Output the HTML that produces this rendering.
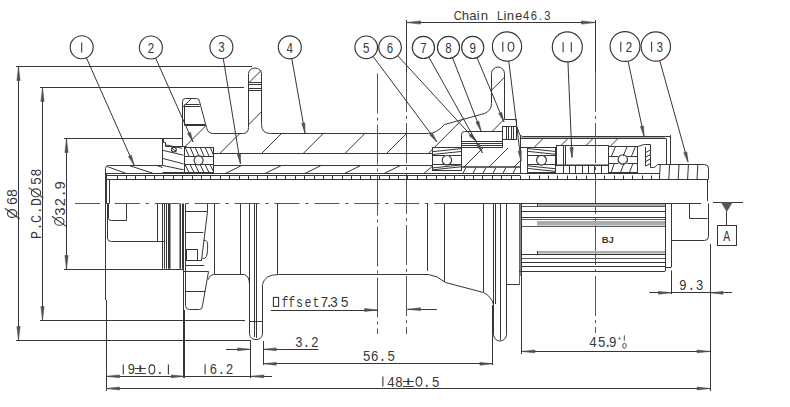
<!DOCTYPE html>
<html><head><meta charset="utf-8"><style>
html,body{margin:0;padding:0;background:#fff;}
svg{display:block;}

</style></head><body>
<svg width="790" height="407" viewBox="0 0 790 407" font-family="Liberation Sans, sans-serif">
<rect width="790" height="407" fill="#fff"/>
<line x1="16" y1="66.5" x2="252" y2="66.5" stroke="#363636" stroke-width="1" />
<line x1="40" y1="87.5" x2="244" y2="87.5" stroke="#363636" stroke-width="1" />
<line x1="64" y1="138.5" x2="182.5" y2="138.5" stroke="#363636" stroke-width="1" />
<line x1="64" y1="269.5" x2="183.5" y2="269.5" stroke="#363636" stroke-width="1" />
<line x1="40" y1="320.5" x2="245" y2="320.5" stroke="#363636" stroke-width="1" />
<line x1="16" y1="340.5" x2="251" y2="340.5" stroke="#363636" stroke-width="1" />
<line x1="18.5" y1="67" x2="18.5" y2="340" stroke="#363636" stroke-width="1" />
<polygon points="18.50,67.00 20.10,80.50 16.90,80.50" fill="#505050" stroke="#505050" stroke-width="0.6"/>
<polygon points="18.50,340.00 16.90,326.50 20.10,326.50" fill="#505050" stroke="#505050" stroke-width="0.6"/>
<line x1="42.5" y1="88" x2="42.5" y2="320" stroke="#363636" stroke-width="1" />
<polygon points="42.50,88.00 44.10,101.50 40.90,101.50" fill="#505050" stroke="#505050" stroke-width="0.6"/>
<polygon points="42.50,320.00 40.90,306.50 44.10,306.50" fill="#505050" stroke="#505050" stroke-width="0.6"/>
<line x1="66.5" y1="139" x2="66.5" y2="269" stroke="#363636" stroke-width="1" />
<polygon points="66.50,139.00 68.10,152.50 64.90,152.50" fill="#505050" stroke="#505050" stroke-width="0.6"/>
<polygon points="66.50,269.00 64.90,255.50 68.10,255.50" fill="#505050" stroke="#505050" stroke-width="0.6"/>
<g transform="translate(17.4 213.5) rotate(-90)" fill="none" stroke="#383838" stroke-width="1.1"><ellipse cx="0" cy="-5.2" rx="3.9" ry="4.7"/><line x1="-5.2" y1="2.2" x2="5.2" y2="-12.6"/></g>
<text transform="translate(17.4 201) rotate(-90) scale(1.0 1)" x="0" y="0" font-family="Liberation Mono" font-size="14" fill="#383838" text-anchor="middle">6</text>
<text transform="translate(17.4 193.1) rotate(-90) scale(1.0 1)" x="0" y="0" font-family="Liberation Mono" font-size="14" fill="#383838" text-anchor="middle">8</text>
<text transform="translate(41.2 235) rotate(-90) scale(0.95 1)" x="0" y="0" font-family="Liberation Mono" font-size="14" fill="#383838" text-anchor="middle">P</text>
<text transform="translate(41.2 226.5) rotate(-90) scale(0.95 1)" x="0" y="0" font-family="Liberation Mono" font-size="14" fill="#383838" text-anchor="middle">.</text>
<text transform="translate(41.2 219) rotate(-90) scale(0.95 1)" x="0" y="0" font-family="Liberation Mono" font-size="14" fill="#383838" text-anchor="middle">C</text>
<text transform="translate(41.2 210.3) rotate(-90) scale(0.95 1)" x="0" y="0" font-family="Liberation Mono" font-size="14" fill="#383838" text-anchor="middle">.</text>
<text transform="translate(41.2 202) rotate(-90) scale(0.95 1)" x="0" y="0" font-family="Liberation Mono" font-size="14" fill="#383838" text-anchor="middle">D</text>
<g transform="translate(41.2 192.8) rotate(-90)" fill="none" stroke="#383838" stroke-width="1.1"><ellipse cx="0" cy="-5.2" rx="3.9" ry="4.7"/><line x1="-5.2" y1="2.2" x2="5.2" y2="-12.6"/></g>
<text transform="translate(41.2 181) rotate(-90) scale(0.95 1)" x="0" y="0" font-family="Liberation Mono" font-size="14" fill="#383838" text-anchor="middle">5</text>
<text transform="translate(41.2 172.6) rotate(-90) scale(0.95 1)" x="0" y="0" font-family="Liberation Mono" font-size="14" fill="#383838" text-anchor="middle">8</text>
<g transform="translate(64.5 221.4) rotate(-90)" fill="none" stroke="#383838" stroke-width="1.1"><ellipse cx="0" cy="-5.2" rx="3.9" ry="4.7"/><line x1="-5.2" y1="2.2" x2="5.2" y2="-12.6"/></g>
<text transform="translate(64.5 211.5) rotate(-90) scale(1.05 1)" x="0" y="0" font-family="Liberation Mono" font-size="14" fill="#383838" text-anchor="middle">3</text>
<text transform="translate(64.5 202) rotate(-90) scale(1.05 1)" x="0" y="0" font-family="Liberation Mono" font-size="14" fill="#383838" text-anchor="middle">2</text>
<text transform="translate(64.5 193.3) rotate(-90) scale(1.05 1)" x="0" y="0" font-family="Liberation Mono" font-size="14" fill="#383838" text-anchor="middle">.</text>
<text transform="translate(64.5 185.3) rotate(-90) scale(1.05 1)" x="0" y="0" font-family="Liberation Mono" font-size="14" fill="#383838" text-anchor="middle">9</text>
<line x1="406.5" y1="20" x2="406.5" y2="72" stroke="#363636" stroke-width="1" />
<line x1="595.5" y1="20" x2="595.5" y2="72" stroke="#363636" stroke-width="1" />
<line x1="406.5" y1="22.5" x2="595.5" y2="22.5" stroke="#363636" stroke-width="1" />
<polygon points="406.50,22.50 420.50,20.90 420.50,24.10" fill="#505050" stroke="#505050" stroke-width="0.6"/>
<polygon points="595.50,22.50 581.50,24.10 581.50,20.90" fill="#505050" stroke="#505050" stroke-width="0.6"/>
<text transform="translate(457.7 20.1) scale(0.85 1)" x="0" y="0" font-family="Liberation Sans" font-size="13.2" fill="#383838" text-anchor="middle">C</text>
<text transform="translate(465.4 20.1) scale(1.0 1)" x="0" y="0" font-family="Liberation Sans" font-size="13.2" fill="#383838" text-anchor="middle">h</text>
<text transform="translate(472.8 20.1) scale(1.0 1)" x="0" y="0" font-family="Liberation Sans" font-size="13.2" fill="#383838" text-anchor="middle">a</text>
<text transform="translate(478.2 20.1) scale(1.0 1)" x="0" y="0" font-family="Liberation Sans" font-size="13.2" fill="#383838" text-anchor="middle">i</text>
<text transform="translate(484.5 20.1) scale(1.0 1)" x="0" y="0" font-family="Liberation Sans" font-size="13.2" fill="#383838" text-anchor="middle">n</text>
<text transform="translate(500 20.1) scale(0.85 1)" x="0" y="0" font-family="Liberation Sans" font-size="13.2" fill="#383838" text-anchor="middle">L</text>
<text transform="translate(505 20.1) scale(1.0 1)" x="0" y="0" font-family="Liberation Sans" font-size="13.2" fill="#383838" text-anchor="middle">i</text>
<text transform="translate(510.4 20.1) scale(1.0 1)" x="0" y="0" font-family="Liberation Sans" font-size="13.2" fill="#383838" text-anchor="middle">n</text>
<text transform="translate(518.7 20.1) scale(1.0 1)" x="0" y="0" font-family="Liberation Sans" font-size="13.2" fill="#383838" text-anchor="middle">e</text>
<text transform="translate(526.1 20.1) scale(0.85 1)" x="0" y="0" font-family="Liberation Sans" font-size="13.2" fill="#383838" text-anchor="middle">4</text>
<text transform="translate(533.9 20.1) scale(0.85 1)" x="0" y="0" font-family="Liberation Sans" font-size="13.2" fill="#383838" text-anchor="middle">6</text>
<text transform="translate(540.3 20.1) scale(0.85 1)" x="0" y="0" font-family="Liberation Sans" font-size="13.2" fill="#383838" text-anchor="middle">.</text>
<text transform="translate(547.3 20.1) scale(0.85 1)" x="0" y="0" font-family="Liberation Sans" font-size="13.2" fill="#383838" text-anchor="middle">3</text>
<line x1="71" y1="203.5" x2="445" y2="203.5" stroke="#555555" stroke-width="1" stroke-dasharray="25 5.7 3.5 5.7" stroke-dashoffset="35.9"/>
<line x1="406.5" y1="72" x2="406.5" y2="334" stroke="#555555" stroke-width="1" stroke-dasharray="40 4 3 4"/>
<line x1="377.5" y1="73.5" x2="377.5" y2="334" stroke="#555555" stroke-width="1" stroke-dasharray="40 4 3 4"/>
<line x1="595.5" y1="72" x2="595.5" y2="333" stroke="#555555" stroke-width="1" stroke-dasharray="40 4 3 4"/>
<path d="M 182.5 138.5L 182.5 101.5Q 182.5 98.5 185.5 98.5L 196.5 98.5Q 199.5 98.5 199.5 101.5L 206.5 127.5Q 207.5 133.5 213.5 133.5L 242.5 133.5Q 248.5 133.5 248.5 127.5L 248.5 73.5A 6.6 6.6 0 0 1 261.5 73.5L 261.5 124.5Q 261.5 133.5 270.5 133.5L 428.5 133.5Q 436.5 133.5 444.5 124.5L 484.5 113.5Q 491.5 110.5 491.5 103.5L 491.5 73.5A 6.3 6.3 0 0 1 504.5 73.5L 504.5 119.5L 516.5 119.5L 516.5 126.5" fill="none" stroke="#363636" stroke-width="1" />
<clipPath id="hs"><polygon points="182.5,138.5 182.5,101 185.5,98 196.5,98 199.6,101 206,127 213,133.5 242,133.5 248,127.5 248,70 254.6,66.4 261.2,70 261.2,124.5 270,133.5 428.7,133.5 444,124 486,111.6 491.8,101.4 491.8,70 498,66.6 504.4,70 504.4,119.9 516,119.9 516,126.5 502.7,126.5 502.7,131.5 461.6,131.5 461.6,147.3 432.9,147.3 432.9,153 213.6,153 213.6,147 184,147 184,138.5"/></clipPath>
<g clip-path="url(#hs)">
<line x1="206.50" y1="0" x2="-200.50" y2="407" stroke="#363636" stroke-width="1" />
<line x1="248.20" y1="0" x2="-158.80" y2="407" stroke="#363636" stroke-width="1" />
<line x1="289.90" y1="0" x2="-117.10" y2="407" stroke="#363636" stroke-width="1" />
<line x1="331.60" y1="0" x2="-75.40" y2="407" stroke="#363636" stroke-width="1" />
<line x1="373.30" y1="0" x2="-33.70" y2="407" stroke="#363636" stroke-width="1" />
<line x1="415.00" y1="0" x2="8.00" y2="407" stroke="#363636" stroke-width="1" />
<line x1="456.70" y1="0" x2="49.70" y2="407" stroke="#363636" stroke-width="1" />
<line x1="498.40" y1="0" x2="91.40" y2="407" stroke="#363636" stroke-width="1" />
<line x1="540.10" y1="0" x2="133.10" y2="407" stroke="#363636" stroke-width="1" />
<line x1="581.80" y1="0" x2="174.80" y2="407" stroke="#363636" stroke-width="1" />
<line x1="623.50" y1="0" x2="216.50" y2="407" stroke="#363636" stroke-width="1" />
<line x1="665.20" y1="0" x2="258.20" y2="407" stroke="#363636" stroke-width="1" />
<line x1="706.90" y1="0" x2="299.90" y2="407" stroke="#363636" stroke-width="1" />
<line x1="748.60" y1="0" x2="341.60" y2="407" stroke="#363636" stroke-width="1" />
<line x1="790.30" y1="0" x2="383.30" y2="407" stroke="#363636" stroke-width="1" />
</g>
<line x1="248" y1="82.5" x2="261.2" y2="82.5" stroke="#363636" stroke-width="1" />
<line x1="248" y1="84.5" x2="261.2" y2="84.5" stroke="#363636" stroke-width="1" />
<line x1="248" y1="88.5" x2="261.2" y2="88.5" stroke="#363636" stroke-width="1" />
<line x1="248" y1="90.5" x2="261.2" y2="90.5" stroke="#363636" stroke-width="1" />
<line x1="184.6" y1="104.5" x2="199.5" y2="104.5" stroke="#363636" stroke-width="1" />
<line x1="184.6" y1="106.5" x2="199.9" y2="106.5" stroke="#363636" stroke-width="1" />
<line x1="184.6" y1="124.5" x2="205.3" y2="124.5" stroke="#363636" stroke-width="1" />
<line x1="184.6" y1="125.5" x2="205.6" y2="125.5" stroke="#363636" stroke-width="1" />
<line x1="184.5" y1="104.7" x2="184.5" y2="125.4" stroke="#363636" stroke-width="1" />
<line x1="213.6" y1="153.5" x2="432.9" y2="153.5" stroke="#363636" stroke-width="1" />
<line x1="182.5" y1="138.5" x2="182.5" y2="147" stroke="#363636" stroke-width="1" />
<rect x="184.5" y="147.5" width="29.0" height="25.0" rx="0" fill="none" stroke="#363636" stroke-width="1"/>
<circle cx="198.6" cy="160.3" r="4.5" fill="none" stroke="#363636" stroke-width="1.15"/>
<line x1="184" y1="156.5" x2="196.79999999999998" y2="156.5" stroke="#363636" stroke-width="1" />
<line x1="200.4" y1="156.5" x2="213.6" y2="156.5" stroke="#363636" stroke-width="1" />
<line x1="184" y1="164.5" x2="196.79999999999998" y2="164.5" stroke="#363636" stroke-width="1" />
<line x1="200.4" y1="164.5" x2="213.6" y2="164.5" stroke="#363636" stroke-width="1" />
<clipPath id="b184a"><rect x="184" y="147" width="29.599999999999994" height="9.160000000000025"/></clipPath>
<clipPath id="b184b"><rect x="184" y="164.44" width="29.599999999999994" height="8.060000000000002"/></clipPath>
<g clip-path="url(#b184a)">
<line x1="180" y1="147" x2="184" y2="156.16000000000003" stroke="#363636" stroke-width="1" />
<line x1="185" y1="147" x2="189" y2="156.16000000000003" stroke="#363636" stroke-width="1" />
<line x1="190" y1="147" x2="194" y2="156.16000000000003" stroke="#363636" stroke-width="1" />
<line x1="195" y1="147" x2="199" y2="156.16000000000003" stroke="#363636" stroke-width="1" />
<line x1="200" y1="147" x2="204" y2="156.16000000000003" stroke="#363636" stroke-width="1" />
<line x1="205" y1="147" x2="209" y2="156.16000000000003" stroke="#363636" stroke-width="1" />
<line x1="210" y1="147" x2="214" y2="156.16000000000003" stroke="#363636" stroke-width="1" />
<line x1="215" y1="147" x2="219" y2="156.16000000000003" stroke="#363636" stroke-width="1" />
</g>
<g clip-path="url(#b184b)">
<line x1="180" y1="164.44" x2="184" y2="172.5" stroke="#363636" stroke-width="1" />
<line x1="185" y1="164.44" x2="189" y2="172.5" stroke="#363636" stroke-width="1" />
<line x1="190" y1="164.44" x2="194" y2="172.5" stroke="#363636" stroke-width="1" />
<line x1="195" y1="164.44" x2="199" y2="172.5" stroke="#363636" stroke-width="1" />
<line x1="200" y1="164.44" x2="204" y2="172.5" stroke="#363636" stroke-width="1" />
<line x1="205" y1="164.44" x2="209" y2="172.5" stroke="#363636" stroke-width="1" />
<line x1="210" y1="164.44" x2="214" y2="172.5" stroke="#363636" stroke-width="1" />
<line x1="215" y1="164.44" x2="219" y2="172.5" stroke="#363636" stroke-width="1" />
</g>
<path d="M 461.5 147.5L 461.5 134.5Q 461.5 131.5 464.5 131.5L 502.5 131.5L 502.5 147.5Z" fill="none" stroke="#363636" stroke-width="1" />
<line x1="461.6" y1="141.5" x2="502.7" y2="141.5" stroke="#363636" stroke-width="1" />
<line x1="461.6" y1="143.5" x2="502.7" y2="143.5" stroke="#363636" stroke-width="1" />
<line x1="461.6" y1="145.5" x2="502.7" y2="145.5" stroke="#363636" stroke-width="1" />
<clipPath id="e7"><polygon points="461.6,131.5 502.7,131.5 502.7,141.9 461.6,141.9"/></clipPath>
<g clip-path="url(#e7)">
<line x1="451.00" y1="0" x2="44.00" y2="407" stroke="#363636" stroke-width="1" />
<line x1="473.00" y1="0" x2="66.00" y2="407" stroke="#363636" stroke-width="1" />
<line x1="495.00" y1="0" x2="88.00" y2="407" stroke="#363636" stroke-width="1" />
<line x1="517.00" y1="0" x2="110.00" y2="407" stroke="#363636" stroke-width="1" />
<line x1="539.00" y1="0" x2="132.00" y2="407" stroke="#363636" stroke-width="1" />
</g>
<clipPath id="r7"><polygon points="461.6,147.9 520,147.9 520,167 461.6,167"/></clipPath>
<g clip-path="url(#r7)">
<line x1="581.00" y1="0" x2="174.00" y2="407" stroke="#363636" stroke-width="1" />
<line x1="606.00" y1="0" x2="199.00" y2="407" stroke="#363636" stroke-width="1" />
<line x1="631.00" y1="0" x2="224.00" y2="407" stroke="#363636" stroke-width="1" />
<line x1="656.00" y1="0" x2="249.00" y2="407" stroke="#363636" stroke-width="1" />
<line x1="681.00" y1="0" x2="274.00" y2="407" stroke="#363636" stroke-width="1" />
<line x1="706.00" y1="0" x2="299.00" y2="407" stroke="#363636" stroke-width="1" />
</g>
<line x1="461.6" y1="167" x2="520" y2="167" stroke="#363636" stroke-width="1.3" />
<line x1="463" y1="173.2" x2="466" y2="167.4" stroke="#363636" stroke-width="1" />
<line x1="473" y1="173.2" x2="476" y2="167.4" stroke="#363636" stroke-width="1" />
<line x1="483" y1="173.2" x2="486" y2="167.4" stroke="#363636" stroke-width="1" />
<line x1="493" y1="173.2" x2="496" y2="167.4" stroke="#363636" stroke-width="1" />
<line x1="503" y1="173.2" x2="506" y2="167.4" stroke="#363636" stroke-width="1" />
<line x1="513" y1="173.2" x2="516" y2="167.4" stroke="#363636" stroke-width="1" />
<rect x="502.5" y="126.5" width="14.0" height="13.0" rx="0" fill="none" stroke="#363636" stroke-width="1"/>
<line x1="506.5" y1="127" x2="506.5" y2="139.5" stroke="#363636" stroke-width="1" />
<line x1="508.5" y1="127" x2="508.5" y2="139.5" stroke="#363636" stroke-width="1" />
<line x1="511.5" y1="127" x2="511.5" y2="139.5" stroke="#363636" stroke-width="1" />
<line x1="513.5" y1="127" x2="513.5" y2="139.5" stroke="#363636" stroke-width="1" />
<line x1="516.2" y1="126.6" x2="518.7" y2="131.8" stroke="#363636" stroke-width="1" />
<rect x="432.5" y="147.5" width="29.0" height="23.0" rx="0" fill="none" stroke="#363636" stroke-width="1"/>
<circle cx="446.9" cy="160.2" r="4.7" fill="none" stroke="#363636" stroke-width="1.15"/>
<line x1="432.9" y1="155.5" x2="445.02" y2="155.5" stroke="#363636" stroke-width="1" />
<line x1="448.78" y1="155.5" x2="461.4" y2="155.5" stroke="#363636" stroke-width="1" />
<line x1="432.9" y1="164.5" x2="445.02" y2="164.5" stroke="#363636" stroke-width="1" />
<line x1="448.78" y1="164.5" x2="461.4" y2="164.5" stroke="#363636" stroke-width="1" />
<line x1="432.9" y1="151.63008" x2="461.4" y2="148.63008" stroke="#363636" stroke-width="1" />
<line x1="432.9" y1="167.89708" x2="461.4" y2="164.89708" stroke="#363636" stroke-width="1" />
<line x1="432.9" y1="154.46016" x2="461.4" y2="151.46016" stroke="#363636" stroke-width="1" />
<line x1="432.9" y1="169.77016" x2="461.4" y2="166.77016" stroke="#363636" stroke-width="1" />
<path d="M 105.5 203.5L 105.5 168.5Q 105.5 165.5 108.5 165.5L 162.5 165.5L 162.5 138.5" fill="none" stroke="#363636" stroke-width="1" />
<line x1="105.5" y1="173.5" x2="658.6" y2="173.5" stroke="#363636" stroke-width="1" />
<line x1="107" y1="175.5" x2="520" y2="175.5" stroke="#363636" stroke-width="1" />
<line x1="107" y1="179.5" x2="708" y2="179.5" stroke="#363636" stroke-width="1" />
<line x1="117.5" y1="175.5" x2="117.5" y2="179.5" stroke="#363636" stroke-width="1" />
<line x1="126.5" y1="175.5" x2="126.5" y2="179.5" stroke="#363636" stroke-width="1" />
<line x1="135.5" y1="175.5" x2="135.5" y2="179.5" stroke="#363636" stroke-width="1" />
<line x1="145.5" y1="175.5" x2="145.5" y2="179.5" stroke="#363636" stroke-width="1" />
<line x1="154.5" y1="175.5" x2="154.5" y2="179.5" stroke="#363636" stroke-width="1" />
<line x1="163.5" y1="175.5" x2="163.5" y2="179.5" stroke="#363636" stroke-width="1" />
<line x1="173.5" y1="175.5" x2="173.5" y2="179.5" stroke="#363636" stroke-width="1" />
<line x1="182.5" y1="175.5" x2="182.5" y2="179.5" stroke="#363636" stroke-width="1" />
<line x1="192.5" y1="175.5" x2="192.5" y2="179.5" stroke="#363636" stroke-width="1" />
<line x1="201.5" y1="175.5" x2="201.5" y2="179.5" stroke="#363636" stroke-width="1" />
<line x1="210.5" y1="175.5" x2="210.5" y2="179.5" stroke="#363636" stroke-width="1" />
<line x1="220.5" y1="175.5" x2="220.5" y2="179.5" stroke="#363636" stroke-width="1" />
<line x1="229.5" y1="175.5" x2="229.5" y2="179.5" stroke="#363636" stroke-width="1" />
<line x1="239.5" y1="175.5" x2="239.5" y2="179.5" stroke="#363636" stroke-width="1" />
<line x1="248.5" y1="175.5" x2="248.5" y2="179.5" stroke="#363636" stroke-width="1" />
<line x1="257.5" y1="175.5" x2="257.5" y2="179.5" stroke="#363636" stroke-width="1" />
<line x1="267.5" y1="175.5" x2="267.5" y2="179.5" stroke="#363636" stroke-width="1" />
<line x1="276.5" y1="175.5" x2="276.5" y2="179.5" stroke="#363636" stroke-width="1" />
<line x1="285.5" y1="175.5" x2="285.5" y2="179.5" stroke="#363636" stroke-width="1" />
<line x1="295.5" y1="175.5" x2="295.5" y2="179.5" stroke="#363636" stroke-width="1" />
<line x1="304.5" y1="175.5" x2="304.5" y2="179.5" stroke="#363636" stroke-width="1" />
<line x1="314.5" y1="175.5" x2="314.5" y2="179.5" stroke="#363636" stroke-width="1" />
<line x1="323.5" y1="175.5" x2="323.5" y2="179.5" stroke="#363636" stroke-width="1" />
<line x1="332.5" y1="175.5" x2="332.5" y2="179.5" stroke="#363636" stroke-width="1" />
<line x1="342.5" y1="175.5" x2="342.5" y2="179.5" stroke="#363636" stroke-width="1" />
<line x1="351.5" y1="175.5" x2="351.5" y2="179.5" stroke="#363636" stroke-width="1" />
<line x1="360.5" y1="175.5" x2="360.5" y2="179.5" stroke="#363636" stroke-width="1" />
<line x1="370.5" y1="175.5" x2="370.5" y2="179.5" stroke="#363636" stroke-width="1" />
<line x1="379.5" y1="175.5" x2="379.5" y2="179.5" stroke="#363636" stroke-width="1" />
<line x1="389.5" y1="175.5" x2="389.5" y2="179.5" stroke="#363636" stroke-width="1" />
<line x1="398.5" y1="175.5" x2="398.5" y2="179.5" stroke="#363636" stroke-width="1" />
<line x1="407.5" y1="175.5" x2="407.5" y2="179.5" stroke="#363636" stroke-width="1" />
<line x1="417.5" y1="175.5" x2="417.5" y2="179.5" stroke="#363636" stroke-width="1" />
<line x1="426.5" y1="175.5" x2="426.5" y2="179.5" stroke="#363636" stroke-width="1" />
<line x1="436.5" y1="175.5" x2="436.5" y2="179.5" stroke="#363636" stroke-width="1" />
<line x1="445.5" y1="175.5" x2="445.5" y2="179.5" stroke="#363636" stroke-width="1" />
<line x1="454.5" y1="175.5" x2="454.5" y2="179.5" stroke="#363636" stroke-width="1" />
<line x1="464.5" y1="175.5" x2="464.5" y2="179.5" stroke="#363636" stroke-width="1" />
<line x1="473.5" y1="175.5" x2="473.5" y2="179.5" stroke="#363636" stroke-width="1" />
<line x1="482.5" y1="175.5" x2="482.5" y2="179.5" stroke="#363636" stroke-width="1" />
<line x1="492.5" y1="175.5" x2="492.5" y2="179.5" stroke="#363636" stroke-width="1" />
<line x1="501.5" y1="175.5" x2="501.5" y2="179.5" stroke="#363636" stroke-width="1" />
<line x1="511.5" y1="175.5" x2="511.5" y2="179.5" stroke="#363636" stroke-width="1" />
<line x1="520.5" y1="175.5" x2="520.5" y2="179.5" stroke="#363636" stroke-width="1" />
<line x1="529.5" y1="175.5" x2="529.5" y2="179.5" stroke="#363636" stroke-width="1" />
<line x1="539.5" y1="175.5" x2="539.5" y2="179.5" stroke="#363636" stroke-width="1" />
<line x1="548.5" y1="175.5" x2="548.5" y2="179.5" stroke="#363636" stroke-width="1" />
<line x1="557.5" y1="175.5" x2="557.5" y2="179.5" stroke="#363636" stroke-width="1" />
<line x1="567.5" y1="175.5" x2="567.5" y2="179.5" stroke="#363636" stroke-width="1" />
<line x1="576.5" y1="175.5" x2="576.5" y2="179.5" stroke="#363636" stroke-width="1" />
<line x1="586.5" y1="175.5" x2="586.5" y2="179.5" stroke="#363636" stroke-width="1" />
<line x1="595.5" y1="175.5" x2="595.5" y2="179.5" stroke="#363636" stroke-width="1" />
<line x1="604.5" y1="175.5" x2="604.5" y2="179.5" stroke="#363636" stroke-width="1" />
<line x1="614.5" y1="175.5" x2="614.5" y2="179.5" stroke="#363636" stroke-width="1" />
<line x1="623.5" y1="175.5" x2="623.5" y2="179.5" stroke="#363636" stroke-width="1" />
<line x1="632.5" y1="175.5" x2="632.5" y2="179.5" stroke="#363636" stroke-width="1" />
<line x1="642.5" y1="175.5" x2="642.5" y2="179.5" stroke="#363636" stroke-width="1" />
<line x1="651.5" y1="175.5" x2="651.5" y2="179.5" stroke="#363636" stroke-width="1" />
<line x1="107.1" y1="166.5" x2="125.6" y2="173.2" stroke="#363636" stroke-width="1" />
<line x1="129.4" y1="165.6" x2="152.7" y2="173.2" stroke="#363636" stroke-width="1" />
<line x1="157" y1="165.6" x2="162.5" y2="167.4" stroke="#363636" stroke-width="1" />
<line x1="106.5" y1="173.5" x2="106.5" y2="203.5" stroke="#363636" stroke-width="1" />
<line x1="109.5" y1="179.5" x2="109.5" y2="203.5" stroke="#363636" stroke-width="1" />
<line x1="213.6" y1="165.5" x2="432.9" y2="165.5" stroke="#363636" stroke-width="1" />
<line x1="225.3" y1="173.5" x2="241.3" y2="165.7" stroke="#363636" stroke-width="1" />
<line x1="265.0" y1="173.5" x2="281.0" y2="165.7" stroke="#363636" stroke-width="1" />
<line x1="304.70000000000005" y1="173.5" x2="320.70000000000005" y2="165.7" stroke="#363636" stroke-width="1" />
<line x1="344.40000000000003" y1="173.5" x2="360.40000000000003" y2="165.7" stroke="#363636" stroke-width="1" />
<line x1="384.1" y1="173.5" x2="400.1" y2="165.7" stroke="#363636" stroke-width="1" />
<line x1="423.8" y1="173.5" x2="432.9" y2="165.7" stroke="#363636" stroke-width="1" />
<path d="M 163.5 138.5L 163.5 142.5L 165.5 142.5L 165.5 146.5L 186.5 146.5" fill="none" stroke="#363636" stroke-width="1" />
<line x1="165.8" y1="145" x2="182" y2="148.2" stroke="#363636" stroke-width="1" />
<line x1="163" y1="150.4" x2="183.5" y2="155.2" stroke="#363636" stroke-width="1" />
<line x1="163" y1="158.5" x2="183.5" y2="163.9" stroke="#363636" stroke-width="1" />
<line x1="163" y1="165.5" x2="183.5" y2="169.8" stroke="#363636" stroke-width="1" />
<circle cx="173.9" cy="149.6" r="2.4" fill="none" stroke="#363636" stroke-width="1.15"/>
<line x1="171.5" y1="147.5" x2="176.5" y2="152" stroke="#363636" stroke-width="1" />
<line x1="162.5" y1="172.5" x2="184" y2="172.5" stroke="#363636" stroke-width="1" />
<path d="M 516.5 126.5L 518.5 131.5Q 519.5 136.5 522.5 136.5L 665.5 136.5" fill="none" stroke="#363636" stroke-width="1" />
<line x1="520.8" y1="138.5" x2="666.3" y2="138.5" stroke="#363636" stroke-width="1" />
<line x1="521" y1="137.5" x2="665" y2="137.5" stroke="#b0b0b0" stroke-width="1" />
<line x1="666.5" y1="138.8" x2="666.5" y2="164.5" stroke="#363636" stroke-width="1" />
<line x1="670.5" y1="135" x2="670.5" y2="164.5" stroke="#363636" stroke-width="1" />
<line x1="665.5" y1="136.5" x2="670.7" y2="136.5" stroke="#363636" stroke-width="1" />
<line x1="520.5" y1="136" x2="520.5" y2="173.5" stroke="#363636" stroke-width="1" />
<clipPath id="fh"><polygon points="521,138.8 666,138.8 666,146.1 608.8,146.1 608.8,145.2 556.4,145.2 556.4,147.2 527.3,147.2 521,147.2"/></clipPath>
<g clip-path="url(#fh)">
<line x1="506.50" y1="0" x2="99.50" y2="407" stroke="#363636" stroke-width="1" />
<line x1="531.50" y1="0" x2="124.50" y2="407" stroke="#363636" stroke-width="1" />
<line x1="556.50" y1="0" x2="149.50" y2="407" stroke="#363636" stroke-width="1" />
<line x1="581.50" y1="0" x2="174.50" y2="407" stroke="#363636" stroke-width="1" />
<line x1="606.50" y1="0" x2="199.50" y2="407" stroke="#363636" stroke-width="1" />
<line x1="631.50" y1="0" x2="224.50" y2="407" stroke="#363636" stroke-width="1" />
<line x1="656.50" y1="0" x2="249.50" y2="407" stroke="#363636" stroke-width="1" />
<line x1="681.50" y1="0" x2="274.50" y2="407" stroke="#363636" stroke-width="1" />
<line x1="706.50" y1="0" x2="299.50" y2="407" stroke="#363636" stroke-width="1" />
<line x1="731.50" y1="0" x2="324.50" y2="407" stroke="#363636" stroke-width="1" />
<line x1="756.50" y1="0" x2="349.50" y2="407" stroke="#363636" stroke-width="1" />
</g>
<line x1="556.4" y1="145.5" x2="608.8" y2="145.5" stroke="#363636" stroke-width="1" />
<line x1="521" y1="147.5" x2="527.3" y2="147.5" stroke="#363636" stroke-width="1" />
<rect x="527.5" y="147.5" width="28.0" height="25.0" rx="0" fill="none" stroke="#363636" stroke-width="1"/>
<circle cx="541.5" cy="160.2" r="4.9" fill="none" stroke="#363636" stroke-width="1.15"/>
<line x1="527.3" y1="155.5" x2="539.54" y2="155.5" stroke="#363636" stroke-width="1" />
<line x1="543.46" y1="155.5" x2="555.8" y2="155.5" stroke="#363636" stroke-width="1" />
<line x1="527.3" y1="164.5" x2="539.54" y2="164.5" stroke="#363636" stroke-width="1" />
<line x1="543.46" y1="164.5" x2="555.8" y2="164.5" stroke="#363636" stroke-width="1" />
<line x1="527.3" y1="148.50235999999998" x2="555.8" y2="151.50235999999998" stroke="#363636" stroke-width="1" />
<line x1="527.3" y1="165.81235999999998" x2="555.8" y2="168.81235999999998" stroke="#363636" stroke-width="1" />
<line x1="527.3" y1="151.30471999999997" x2="555.8" y2="154.30471999999997" stroke="#363636" stroke-width="1" />
<line x1="527.3" y1="168.41672" x2="555.8" y2="171.41672" stroke="#363636" stroke-width="1" />
<rect x="608.5" y="146.5" width="29.0" height="26.0" rx="0" fill="none" stroke="#363636" stroke-width="1"/>
<circle cx="622.8" cy="159.4" r="4.7" fill="none" stroke="#363636" stroke-width="1.15"/>
<line x1="608.5" y1="156.5" x2="618.3" y2="156.5" stroke="#363636" stroke-width="1" />
<line x1="627.3" y1="156.5" x2="637.8" y2="156.5" stroke="#363636" stroke-width="1" />
<line x1="608.5" y1="163.5" x2="618.3" y2="163.5" stroke="#363636" stroke-width="1" />
<line x1="627.3" y1="163.5" x2="637.8" y2="163.5" stroke="#363636" stroke-width="1" />
<line x1="611.5" y1="156.1" x2="615.5" y2="146.4" stroke="#363636" stroke-width="1" />
<line x1="623.2" y1="156.1" x2="627.2" y2="146.4" stroke="#363636" stroke-width="1" />
<line x1="631.5" y1="156.1" x2="635.5" y2="146.4" stroke="#363636" stroke-width="1" />
<line x1="611" y1="172.4" x2="614.5" y2="163.3" stroke="#363636" stroke-width="1" />
<line x1="620.5" y1="172.4" x2="624.0" y2="163.3" stroke="#363636" stroke-width="1" />
<line x1="629.5" y1="172.4" x2="633.0" y2="163.3" stroke="#363636" stroke-width="1" />
<rect x="556.5" y="145.5" width="52.0" height="20.0" rx="0" fill="none" stroke="#363636" stroke-width="1"/>
<line x1="563.5" y1="145.2" x2="563.5" y2="165" stroke="#363636" stroke-width="1" />
<line x1="565.5" y1="145.2" x2="565.5" y2="165" stroke="#363636" stroke-width="1" />
<path d="M 637.5 170.5L 637.5 146.5Q 644.5 143.5 650.5 144.5L 650.5 167.5" fill="none" stroke="#363636" stroke-width="1" />
<line x1="645.5" y1="147" x2="645.5" y2="166" stroke="#363636" stroke-width="1" />
<line x1="645.8" y1="152.5" x2="650.3" y2="150" stroke="#363636" stroke-width="1" />
<line x1="645.8" y1="157.0" x2="650.3" y2="154.5" stroke="#363636" stroke-width="1" />
<line x1="645.8" y1="161.5" x2="650.3" y2="159" stroke="#363636" stroke-width="1" />
<line x1="645.8" y1="166.0" x2="650.3" y2="163.5" stroke="#363636" stroke-width="1" />
<line x1="555.8" y1="165" x2="608.5" y2="165" stroke="#363636" stroke-width="1.2" />
<line x1="563.5" y1="165" x2="563.5" y2="173.2" stroke="#363636" stroke-width="1" />
<line x1="569.5" y1="165" x2="569.5" y2="173.2" stroke="#363636" stroke-width="1" />
<line x1="575.5" y1="165" x2="575.5" y2="173.2" stroke="#363636" stroke-width="1" />
<line x1="582.5" y1="165" x2="582.5" y2="173.2" stroke="#363636" stroke-width="1" />
<line x1="588.5" y1="165" x2="588.5" y2="173.2" stroke="#363636" stroke-width="1" />
<line x1="594.5" y1="165" x2="594.5" y2="173.2" stroke="#363636" stroke-width="1" />
<line x1="601.5" y1="165" x2="601.5" y2="173.2" stroke="#363636" stroke-width="1" />
<line x1="520.8" y1="173.5" x2="660" y2="173.5" stroke="#363636" stroke-width="1" />
<path d="M 650.5 167.5L 653.5 167.5Q 655.5 167.5 656.5 165.5L 657.5 164.5L 704.5 164.5Q 708.5 164.5 708.5 168.5L 708.5 179.5" fill="none" stroke="#363636" stroke-width="1" />
<line x1="660.2" y1="165" x2="659.4000000000001" y2="179.5" stroke="#363636" stroke-width="1" />
<line x1="669.6" y1="165" x2="668.8000000000001" y2="179.5" stroke="#363636" stroke-width="1" />
<line x1="679.0" y1="165" x2="678.2" y2="179.5" stroke="#363636" stroke-width="1" />
<line x1="688.4" y1="165" x2="687.6" y2="179.5" stroke="#363636" stroke-width="1" />
<line x1="697.8" y1="165" x2="697.0" y2="179.5" stroke="#363636" stroke-width="1" />
<line x1="707.5" y1="179.5" x2="707.5" y2="201" stroke="#363636" stroke-width="1" />
<line x1="105.5" y1="203.5" x2="105.5" y2="300" stroke="#363636" stroke-width="1" />
<line x1="106.5" y1="300" x2="106.5" y2="391" stroke="#363636" stroke-width="1" />
<path d="M 107.5 203.5L 107.5 238.5Q 107.5 241.5 111.5 241.5L 164.5 241.5" fill="none" stroke="#363636" stroke-width="1" />
<path d="M 108.5 203.5L 108.5 218.5Q 108.5 220.5 111.5 220.5L 126.5 220.5L 126.5 203.5" fill="none" stroke="#363636" stroke-width="1" />
<line x1="157.5" y1="203.5" x2="157.5" y2="241.7" stroke="#363636" stroke-width="1" />
<line x1="162.5" y1="203.5" x2="162.5" y2="268.7" stroke="#363636" stroke-width="1" />
<line x1="164.5" y1="203.5" x2="164.5" y2="268.7" stroke="#363636" stroke-width="1" />
<line x1="166.5" y1="203.5" x2="166.5" y2="268.7" stroke="#363636" stroke-width="1" />
<line x1="168.5" y1="203.5" x2="168.5" y2="268.7" stroke="#363636" stroke-width="1" />
<line x1="169.5" y1="203.5" x2="169.5" y2="268.7" stroke="#363636" stroke-width="1" />
<line x1="180.5" y1="203.5" x2="180.5" y2="268.7" stroke="#363636" stroke-width="1" />
<line x1="182.5" y1="203.5" x2="182.5" y2="268.7" stroke="#363636" stroke-width="1" />
<line x1="170.5" y1="203.5" x2="170.5" y2="268.7" stroke="#9a9a9a" stroke-width="1" />
<line x1="179.5" y1="203.5" x2="179.5" y2="268.7" stroke="#9a9a9a" stroke-width="1" />
<line x1="183.5" y1="203.5" x2="183.5" y2="378" stroke="#363636" stroke-width="1" />
<path d="M 185.5 211.5L 207.5 211.5L 201.5 260.5" fill="none" stroke="#363636" stroke-width="1" />
<line x1="207.5" y1="203.5" x2="207.5" y2="211.2" stroke="#363636" stroke-width="1" />
<path d="M 183.5 271.5L 208.5 271.5L 202.5 305.5Q 202.5 309.5 199.5 309.5L 189.5 309.5Q 185.5 309.5 185.5 305.5L 185.5 203.5" fill="none" stroke="#363636" stroke-width="1" />
<line x1="185.5" y1="265.5" x2="204.3" y2="265.5" stroke="#363636" stroke-width="1" />
<line x1="185.5" y1="232.5" x2="203.3" y2="232.5" stroke="#363636" stroke-width="1" />
<line x1="185.5" y1="260.5" x2="202" y2="260.5" stroke="#363636" stroke-width="1" />
<rect x="186.5" y="249.5" width="11.0" height="11.0" rx="0" fill="none" stroke="#363636" stroke-width="1"/>
<path d="M 203.5 240.5Q 208.5 238.5 207.5 249.5Q 207.5 259.5 202.5 258.5" fill="none" stroke="#363636" stroke-width="1" />
<line x1="185.5" y1="291.5" x2="205.5" y2="291.5" stroke="#363636" stroke-width="1" />
<line x1="214.5" y1="203.5" x2="214.5" y2="274" stroke="#363636" stroke-width="1" />
<path d="M 208.5 279.5Q 209.5 274.5 214.5 274.5L 244.5 274.5Q 249.5 276.5 249.5 284.5" fill="none" stroke="#363636" stroke-width="1" />
<line x1="240.5" y1="203.5" x2="240.5" y2="274" stroke="#363636" stroke-width="1" />
<path d="M 249.5 203.5L 249.5 334.5A 6.7 6.7 0 0 0 262.5 334.5L 262.5 284.5Q 264.5 274.5 278.5 274.5L 428.5 274.5" fill="none" stroke="#363636" stroke-width="1" />
<line x1="254.5" y1="203.5" x2="254.5" y2="337" stroke="#363636" stroke-width="1" />
<line x1="256.5" y1="203.5" x2="256.5" y2="338" stroke="#363636" stroke-width="1" />
<line x1="249" y1="321.5" x2="262.4" y2="321.5" stroke="#363636" stroke-width="1" />
<line x1="277.5" y1="203.5" x2="277.5" y2="274" stroke="#363636" stroke-width="1" />
<path d="M 428.5 274.5Q 437.5 275.5 445.5 282.5L 483.5 292.5Q 491.5 296.5 493.5 304.5" fill="none" stroke="#363636" stroke-width="1" />
<line x1="427.5" y1="203.5" x2="427.5" y2="271" stroke="#363636" stroke-width="1" />
<line x1="444.5" y1="203.5" x2="444.5" y2="282" stroke="#363636" stroke-width="1" />
<line x1="483.5" y1="203.5" x2="483.5" y2="292" stroke="#363636" stroke-width="1" />
<path d="M 493.5 203.5L 493.5 334.5A 6.4 6.4 0 0 0 506.5 334.5L 506.5 203.5" fill="none" stroke="#363636" stroke-width="1" />
<line x1="495.5" y1="203.5" x2="495.5" y2="304" stroke="#363636" stroke-width="1" />
<line x1="500.5" y1="203.5" x2="500.5" y2="339.8" stroke="#363636" stroke-width="1" />
<path d="M 506.5 284.5L 519.5 284.5L 519.5 203.5" fill="none" stroke="#363636" stroke-width="1" />
<line x1="445" y1="203.5" x2="522" y2="203.5" stroke="#363636" stroke-width="1" />
<line x1="519.5" y1="203.5" x2="519.5" y2="284.7" stroke="#666" stroke-width="1" />
<line x1="520.5" y1="203.5" x2="520.5" y2="276" stroke="#888" stroke-width="1" />
<line x1="521.5" y1="203.5" x2="521.5" y2="274" stroke="#363636" stroke-width="1" />
<rect x="537" y="203" width="128" height="3" fill="#acacac"/>
<rect x="537" y="221" width="128" height="4.5" fill="#acacac"/>
<rect x="537" y="251" width="128" height="2.5" fill="#acacac"/>
<line x1="522" y1="211.5" x2="665" y2="211.5" stroke="#363636" stroke-width="1" />
<line x1="522" y1="217.5" x2="665" y2="217.5" stroke="#363636" stroke-width="1" />
<line x1="522" y1="254.5" x2="665" y2="254.5" stroke="#363636" stroke-width="1" />
<line x1="522" y1="262.5" x2="665" y2="262.5" stroke="#363636" stroke-width="1" />
<line x1="522" y1="266.5" x2="665" y2="266.5" stroke="#363636" stroke-width="1" />
<line x1="522" y1="206.5" x2="665" y2="206.5" stroke="#5a5a5a" stroke-width="1" />
<line x1="522" y1="219.5" x2="665" y2="219.5" stroke="#5a5a5a" stroke-width="1" />
<line x1="522" y1="226.5" x2="665" y2="226.5" stroke="#5a5a5a" stroke-width="1" />
<line x1="522" y1="258.5" x2="665" y2="258.5" stroke="#5a5a5a" stroke-width="1" />
<line x1="537.5" y1="203" x2="537.5" y2="206.5" stroke="#363636" stroke-width="1" />
<line x1="537.5" y1="251" x2="537.5" y2="254" stroke="#363636" stroke-width="1" />
<line x1="665.5" y1="203.5" x2="665.5" y2="271" stroke="#363636" stroke-width="1" />
<line x1="671.5" y1="203.5" x2="671.5" y2="267.1" stroke="#363636" stroke-width="1" />
<line x1="665.2" y1="267.5" x2="671.4" y2="267.5" stroke="#363636" stroke-width="1" />
<line x1="519" y1="271.5" x2="665.2" y2="271.5" stroke="#363636" stroke-width="1" />
<text x="601.7" y="243" font-family="Liberation Sans" font-size="9.5" fill="#3a3a3a" text-anchor="start" textLength="12.2" lengthAdjust="spacingAndGlyphs" font-weight="bold">BJ</text>
<path d="M 689.5 203.5L 689.5 218.5L 707.5 218.5" fill="none" stroke="#363636" stroke-width="1" />
<path d="M 671.5 240.5L 704.5 240.5Q 708.5 240.5 708.5 236.5L 708.5 203.5" fill="none" stroke="#363636" stroke-width="1" />
<line x1="701" y1="203.5" x2="445" y2="203.5" stroke="#363636" stroke-width="1" />
<line x1="184.5" y1="310" x2="184.5" y2="378" stroke="#363636" stroke-width="1" />
<line x1="106.5" y1="376.5" x2="272" y2="376.5" stroke="#363636" stroke-width="1" />
<polygon points="106.50,376.30 119.50,374.90 119.50,377.70" fill="#505050" stroke="#505050" stroke-width="0.6"/>
<polygon points="184.40,376.30 171.40,377.70 171.40,374.90" fill="#505050" stroke="#505050" stroke-width="0.6"/>
<polygon points="250.80,376.30 263.80,374.90 263.80,377.70" fill="#505050" stroke="#505050" stroke-width="0.6"/>
<line transform="translate(123.3 374.4)" x1="0" y1="0" x2="0" y2="-10" stroke="#383838" stroke-width="1.1"/>
<text transform="translate(131.3 374.4) scale(0.88 1)" x="0" y="0" font-family="Liberation Mono" font-size="14.5" fill="#383838" text-anchor="middle">9</text>
<text transform="translate(140.3 374.4) scale(1.55 1)" x="0" y="0" font-family="Liberation Mono" font-size="14.5" fill="#383838" text-anchor="middle">±</text>
<ellipse transform="translate(151.9 374.4)" cx="0" cy="-5.00" rx="2.90" ry="4.50" fill="none" stroke="#383838" stroke-width="1.1"/>
<text transform="translate(159.8 374.4) scale(0.88 1)" x="0" y="0" font-family="Liberation Mono" font-size="14.5" fill="#383838" text-anchor="middle">.</text>
<line transform="translate(168.4 374.4)" x1="0" y1="0" x2="0" y2="-10" stroke="#383838" stroke-width="1.1"/>
<line transform="translate(205.1 374.2)" x1="0" y1="0" x2="0" y2="-10" stroke="#383838" stroke-width="1.1"/>
<text transform="translate(213.2 374.2) scale(0.88 1)" x="0" y="0" font-family="Liberation Mono" font-size="14.5" fill="#383838" text-anchor="middle">6</text>
<text transform="translate(221.3 374.2) scale(0.88 1)" x="0" y="0" font-family="Liberation Mono" font-size="14.5" fill="#383838" text-anchor="middle">.</text>
<text transform="translate(229.6 374.2) scale(0.88 1)" x="0" y="0" font-family="Liberation Mono" font-size="14.5" fill="#383838" text-anchor="middle">2</text>
<line x1="250.5" y1="341" x2="250.5" y2="378" stroke="#363636" stroke-width="1" />
<line x1="226" y1="349.5" x2="250.6" y2="349.5" stroke="#363636" stroke-width="1" />
<polygon points="250.60,349.30 237.60,350.70 237.60,347.90" fill="#505050" stroke="#505050" stroke-width="0.6"/>
<line x1="263.2" y1="349.5" x2="318.5" y2="349.5" stroke="#363636" stroke-width="1" />
<polygon points="263.20,349.30 276.20,347.90 276.20,350.70" fill="#505050" stroke="#505050" stroke-width="0.6"/>
<text transform="translate(298.8 347.1) scale(0.88 1)" x="0" y="0" font-family="Liberation Mono" font-size="14.5" fill="#383838" text-anchor="middle">3</text>
<text transform="translate(306.2 347.1) scale(0.88 1)" x="0" y="0" font-family="Liberation Mono" font-size="14.5" fill="#383838" text-anchor="middle">.</text>
<text transform="translate(314.8 347.1) scale(0.88 1)" x="0" y="0" font-family="Liberation Mono" font-size="14.5" fill="#383838" text-anchor="middle">2</text>
<line x1="263.5" y1="341" x2="263.5" y2="365" stroke="#363636" stroke-width="1" />
<line x1="263.2" y1="363.5" x2="492.9" y2="363.5" stroke="#363636" stroke-width="1" />
<polygon points="263.20,363.80 276.20,362.40 276.20,365.20" fill="#505050" stroke="#505050" stroke-width="0.6"/>
<polygon points="492.90,363.80 479.90,365.20 479.90,362.40" fill="#505050" stroke="#505050" stroke-width="0.6"/>
<text transform="translate(366.7 361.4) scale(0.9 1)" x="0" y="0" font-family="Liberation Mono" font-size="14.5" fill="#383838" text-anchor="middle">5</text>
<text transform="translate(374.6 361.4) scale(0.9 1)" x="0" y="0" font-family="Liberation Mono" font-size="14.5" fill="#383838" text-anchor="middle">6</text>
<text transform="translate(382.5 361.4) scale(0.9 1)" x="0" y="0" font-family="Liberation Mono" font-size="14.5" fill="#383838" text-anchor="middle">.</text>
<text transform="translate(391.1 361.4) scale(0.9 1)" x="0" y="0" font-family="Liberation Mono" font-size="14.5" fill="#383838" text-anchor="middle">5</text>
<line x1="492.5" y1="305" x2="492.5" y2="365" stroke="#363636" stroke-width="1" />
<rect transform="translate(276 306.9)" x="-2.6" y="-9.5" width="5.2" height="9" fill="none" stroke="#383838" stroke-width="1.1"/>
<text transform="translate(285 306.9) scale(0.8 1)" x="0" y="0" font-family="Liberation Mono" font-size="14.5" fill="#383838" text-anchor="middle">f</text>
<text transform="translate(291.7 306.9) scale(0.8 1)" x="0" y="0" font-family="Liberation Mono" font-size="14.5" fill="#383838" text-anchor="middle">f</text>
<text transform="translate(299.6 306.9) scale(0.8 1)" x="0" y="0" font-family="Liberation Mono" font-size="14.5" fill="#383838" text-anchor="middle">s</text>
<text transform="translate(308 306.9) scale(0.8 1)" x="0" y="0" font-family="Liberation Mono" font-size="14.5" fill="#383838" text-anchor="middle">e</text>
<text transform="translate(315.9 306.9) scale(0.8 1)" x="0" y="0" font-family="Liberation Mono" font-size="14.5" fill="#383838" text-anchor="middle">t</text>
<text transform="translate(324.4 306.9) scale(0.95 1)" x="0" y="0" font-family="Liberation Mono" font-size="14.5" fill="#383838" text-anchor="middle">7</text>
<text transform="translate(329.1 306.9) scale(0.95 1)" x="0" y="0" font-family="Liberation Mono" font-size="14.5" fill="#383838" text-anchor="middle">.</text>
<text transform="translate(333.9 306.9) scale(0.95 1)" x="0" y="0" font-family="Liberation Mono" font-size="14.5" fill="#383838" text-anchor="middle">3</text>
<text transform="translate(344.5 306.9) scale(0.95 1)" x="0" y="0" font-family="Liberation Mono" font-size="14.5" fill="#383838" text-anchor="middle">5</text>
<line x1="270.8" y1="310.5" x2="377.6" y2="310.5" stroke="#363636" stroke-width="1" />
<polygon points="377.60,310.00 364.60,311.40 364.60,308.60" fill="#505050" stroke="#505050" stroke-width="0.6"/>
<line x1="407.5" y1="309.5" x2="436.8" y2="309.5" stroke="#363636" stroke-width="1" />
<polygon points="407.50,309.20 420.50,307.80 420.50,310.60" fill="#505050" stroke="#505050" stroke-width="0.6"/>
<line x1="106.5" y1="388.5" x2="710" y2="388.5" stroke="#363636" stroke-width="1" />
<polygon points="106.50,388.50 119.50,387.10 119.50,389.90" fill="#505050" stroke="#505050" stroke-width="0.6"/>
<polygon points="710.00,388.50 697.00,389.90 697.00,387.10" fill="#505050" stroke="#505050" stroke-width="0.6"/>
<line transform="translate(382.9 386.6)" x1="0" y1="0" x2="0" y2="-10" stroke="#383838" stroke-width="1.1"/>
<text transform="translate(390.8 386.6) scale(0.9 1)" x="0" y="0" font-family="Liberation Mono" font-size="14.5" fill="#383838" text-anchor="middle">4</text>
<text transform="translate(398.8 386.6) scale(0.9 1)" x="0" y="0" font-family="Liberation Mono" font-size="14.5" fill="#383838" text-anchor="middle">8</text>
<text transform="translate(408.2 386.6) scale(1.55 1)" x="0" y="0" font-family="Liberation Mono" font-size="14.5" fill="#383838" text-anchor="middle">±</text>
<ellipse transform="translate(419 386.6)" cx="0" cy="-5.00" rx="2.90" ry="4.50" fill="none" stroke="#383838" stroke-width="1.1"/>
<text transform="translate(426.6 386.6) scale(0.9 1)" x="0" y="0" font-family="Liberation Mono" font-size="14.5" fill="#383838" text-anchor="middle">.</text>
<text transform="translate(435.6 386.6) scale(0.9 1)" x="0" y="0" font-family="Liberation Mono" font-size="14.5" fill="#383838" text-anchor="middle">5</text>
<line x1="710.5" y1="244" x2="710.5" y2="391" stroke="#363636" stroke-width="1" />
<line x1="521.5" y1="270" x2="521.5" y2="354" stroke="#363636" stroke-width="1" />
<line x1="521.8" y1="351.5" x2="710" y2="351.5" stroke="#363636" stroke-width="1" />
<polygon points="521.80,351.40 534.80,350.00 534.80,352.80" fill="#505050" stroke="#505050" stroke-width="0.6"/>
<polygon points="710.00,351.40 697.00,352.80 697.00,350.00" fill="#505050" stroke="#505050" stroke-width="0.6"/>
<text transform="translate(593 347.2) scale(0.88 1)" x="0" y="0" font-family="Liberation Mono" font-size="15" fill="#383838" text-anchor="middle">4</text>
<text transform="translate(601.8 347.2) scale(0.88 1)" x="0" y="0" font-family="Liberation Mono" font-size="15" fill="#383838" text-anchor="middle">5</text>
<text transform="translate(607.7 347.2) scale(0.88 1)" x="0" y="0" font-family="Liberation Mono" font-size="15" fill="#383838" text-anchor="middle">.</text>
<text transform="translate(612.6 347.2) scale(0.88 1)" x="0" y="0" font-family="Liberation Mono" font-size="15" fill="#383838" text-anchor="middle">9</text>
<text transform="translate(619.5 340.8) scale(0.82 1)" x="0" y="0" font-family="Liberation Mono" font-size="8" fill="#383838" text-anchor="middle">+</text>
<line transform="translate(624.3 340.8)" x1="0" y1="0" x2="0" y2="-5.5" stroke="#383838" stroke-width="0.9"/>
<ellipse transform="translate(624.5 348.8)" cx="0" cy="-3.00" rx="1.74" ry="2.50" fill="none" stroke="#383838" stroke-width="0.9"/>
<line x1="671.5" y1="270.5" x2="671.5" y2="294.2" stroke="#363636" stroke-width="1" />
<line x1="649.3" y1="292.5" x2="731.9" y2="292.5" stroke="#363636" stroke-width="1" />
<polygon points="671.40,292.80 658.40,294.20 658.40,291.40" fill="#505050" stroke="#505050" stroke-width="0.6"/>
<polygon points="710.00,292.80 723.00,291.40 723.00,294.20" fill="#505050" stroke="#505050" stroke-width="0.6"/>
<text transform="translate(682.7 290.3) scale(0.88 1)" x="0" y="0" font-family="Liberation Mono" font-size="14.5" fill="#383838" text-anchor="middle">9</text>
<text transform="translate(691.3 290.3) scale(0.88 1)" x="0" y="0" font-family="Liberation Mono" font-size="14.5" fill="#383838" text-anchor="middle">.</text>
<text transform="translate(699.5 290.3) scale(0.88 1)" x="0" y="0" font-family="Liberation Mono" font-size="14.5" fill="#383838" text-anchor="middle">3</text>
<line x1="713" y1="202.5" x2="743" y2="202.5" stroke="#363636" stroke-width="1" />
<polygon points="721.4,202.5 732.2,202.5 726.8,211.5" fill="#555" stroke="#555" stroke-width="0.6"/>
<line x1="726.5" y1="211.5" x2="726.5" y2="225" stroke="#363636" stroke-width="1" />
<rect x="717.5" y="225.5" width="19.0" height="20.0" rx="0" fill="none" stroke="#363636" stroke-width="1"/>
<text transform="translate(726.8 241) scale(0.82 1)" x="0" y="0" font-family="Liberation Mono" font-size="14" fill="#383838" text-anchor="middle">A</text>
<circle cx="81.7" cy="47.2" r="11.5" fill="none" stroke="#363636" stroke-width="1.15"/>
<line x1="86.37" y1="57.71" x2="134" y2="165" stroke="#363636" stroke-width="1" />
<polygon points="134.00,165.00 128.48,156.51 131.40,155.21" fill="#505050" stroke="#505050" stroke-width="0.6"/>
<line transform="translate(81.7 52.5)" x1="0" y1="0" x2="0" y2="-10" stroke="#383838" stroke-width="1.1"/>
<circle cx="150.9" cy="47.5" r="11.5" fill="none" stroke="#363636" stroke-width="1.15"/>
<line x1="155.58" y1="58.00" x2="193" y2="142" stroke="#363636" stroke-width="1" />
<polygon points="193.00,142.00 187.47,133.52 190.39,132.21" fill="#505050" stroke="#505050" stroke-width="0.6"/>
<text transform="translate(150.9 52.8) scale(0.82 1)" x="0" y="0" font-family="Liberation Mono" font-size="14" fill="#383838" text-anchor="middle">2</text>
<circle cx="221.4" cy="47" r="11.5" fill="none" stroke="#363636" stroke-width="1.15"/>
<line x1="223.25" y1="58.35" x2="240.5" y2="164" stroke="#363636" stroke-width="1" />
<polygon points="240.50,164.00 237.31,154.39 240.47,153.87" fill="#505050" stroke="#505050" stroke-width="0.6"/>
<text transform="translate(221.4 52.3) scale(0.82 1)" x="0" y="0" font-family="Liberation Mono" font-size="14" fill="#383838" text-anchor="middle">3</text>
<circle cx="289.8" cy="47.3" r="11.5" fill="none" stroke="#363636" stroke-width="1.15"/>
<line x1="291.81" y1="58.62" x2="305" y2="133" stroke="#363636" stroke-width="1" />
<polygon points="305.00,133.00 301.68,123.43 304.83,122.87" fill="#505050" stroke="#505050" stroke-width="0.6"/>
<text transform="translate(289.8 52.599999999999994) scale(0.82 1)" x="0" y="0" font-family="Liberation Mono" font-size="14" fill="#383838" text-anchor="middle">4</text>
<circle cx="366.2" cy="47.3" r="11.3" fill="none" stroke="#363636" stroke-width="1.15"/>
<line x1="372.97" y1="56.35" x2="437" y2="142" stroke="#363636" stroke-width="1" />
<polygon points="437.00,142.00 429.73,134.95 432.29,133.03" fill="#505050" stroke="#505050" stroke-width="0.6"/>
<text transform="translate(366.2 52.599999999999994) scale(0.82 1)" x="0" y="0" font-family="Liberation Mono" font-size="14" fill="#383838" text-anchor="middle">5</text>
<circle cx="390" cy="47.3" r="11.3" fill="none" stroke="#363636" stroke-width="1.15"/>
<line x1="397.64" y1="55.62" x2="477" y2="142" stroke="#363636" stroke-width="1" />
<polygon points="477.00,142.00 469.06,135.72 471.41,133.55" fill="#505050" stroke="#505050" stroke-width="0.6"/>
<text transform="translate(390 52.599999999999994) scale(0.82 1)" x="0" y="0" font-family="Liberation Mono" font-size="14" fill="#383838" text-anchor="middle">6</text>
<circle cx="423.4" cy="47.4" r="11.1" fill="none" stroke="#363636" stroke-width="1.15"/>
<line x1="428.82" y1="57.09" x2="482.5" y2="153" stroke="#363636" stroke-width="1" />
<polygon points="482.50,153.00 476.22,145.06 479.01,143.49" fill="#505050" stroke="#505050" stroke-width="0.6"/>
<text transform="translate(423.4 52.699999999999996) scale(0.82 1)" x="0" y="0" font-family="Liberation Mono" font-size="14" fill="#383838" text-anchor="middle">7</text>
<circle cx="448.5" cy="47.4" r="11.1" fill="none" stroke="#363636" stroke-width="1.15"/>
<line x1="452.52" y1="57.75" x2="481" y2="131" stroke="#363636" stroke-width="1" />
<polygon points="481.00,131.00 475.89,122.26 478.87,121.10" fill="#505050" stroke="#505050" stroke-width="0.6"/>
<text transform="translate(448.5 52.699999999999996) scale(0.82 1)" x="0" y="0" font-family="Liberation Mono" font-size="14" fill="#383838" text-anchor="middle">8</text>
<circle cx="472.7" cy="47.4" r="11.1" fill="none" stroke="#363636" stroke-width="1.15"/>
<line x1="476.99" y1="57.64" x2="504" y2="122" stroke="#363636" stroke-width="1" />
<polygon points="504.00,122.00 498.66,113.40 501.61,112.16" fill="#505050" stroke="#505050" stroke-width="0.6"/>
<text transform="translate(472.7 52.699999999999996) scale(0.82 1)" x="0" y="0" font-family="Liberation Mono" font-size="14" fill="#383838" text-anchor="middle">9</text>
<circle cx="507" cy="46.5" r="14.6" fill="none" stroke="#363636" stroke-width="1.15"/>
<line x1="508.77" y1="60.99" x2="521" y2="161" stroke="#363636" stroke-width="1" />
<polygon points="521.00,161.00 518.20,151.27 521.37,150.88" fill="#505050" stroke="#505050" stroke-width="0.6"/>
<line transform="translate(502.8 51.8)" x1="0" y1="0" x2="0" y2="-10" stroke="#383838" stroke-width="1.1"/>
<ellipse transform="translate(511.0 51.8)" cx="0" cy="-5.00" rx="2.90" ry="4.50" fill="none" stroke="#383838" stroke-width="1.1"/>
<circle cx="567.3" cy="46.9" r="15" fill="none" stroke="#363636" stroke-width="1.15"/>
<line x1="567.94" y1="61.89" x2="572" y2="157.5" stroke="#363636" stroke-width="1" />
<polygon points="572.00,157.50 569.98,147.58 573.17,147.44" fill="#505050" stroke="#505050" stroke-width="0.6"/>
<line transform="translate(563.0999999999999 52.199999999999996)" x1="0" y1="0" x2="0" y2="-10" stroke="#383838" stroke-width="1.1"/>
<line transform="translate(571.3 52.199999999999996)" x1="0" y1="0" x2="0" y2="-10" stroke="#383838" stroke-width="1.1"/>
<circle cx="625" cy="46.5" r="14.9" fill="none" stroke="#363636" stroke-width="1.15"/>
<line x1="628.09" y1="61.08" x2="644" y2="136" stroke="#363636" stroke-width="1" />
<polygon points="644.00,136.00 640.36,126.55 643.49,125.89" fill="#505050" stroke="#505050" stroke-width="0.6"/>
<line transform="translate(620.8 51.8)" x1="0" y1="0" x2="0" y2="-10" stroke="#383838" stroke-width="1.1"/>
<text transform="translate(629.0 51.8) scale(0.82 1)" x="0" y="0" font-family="Liberation Mono" font-size="14" fill="#383838" text-anchor="middle">2</text>
<circle cx="655.8" cy="46.5" r="14.7" fill="none" stroke="#363636" stroke-width="1.15"/>
<line x1="659.75" y1="60.66" x2="688" y2="162" stroke="#363636" stroke-width="1" />
<polygon points="688.00,162.00 683.77,152.80 686.86,151.94" fill="#505050" stroke="#505050" stroke-width="0.6"/>
<line transform="translate(651.5999999999999 51.8)" x1="0" y1="0" x2="0" y2="-10" stroke="#383838" stroke-width="1.1"/>
<text transform="translate(659.8 51.8) scale(0.82 1)" x="0" y="0" font-family="Liberation Mono" font-size="14" fill="#383838" text-anchor="middle">3</text>
</svg></body></html>
